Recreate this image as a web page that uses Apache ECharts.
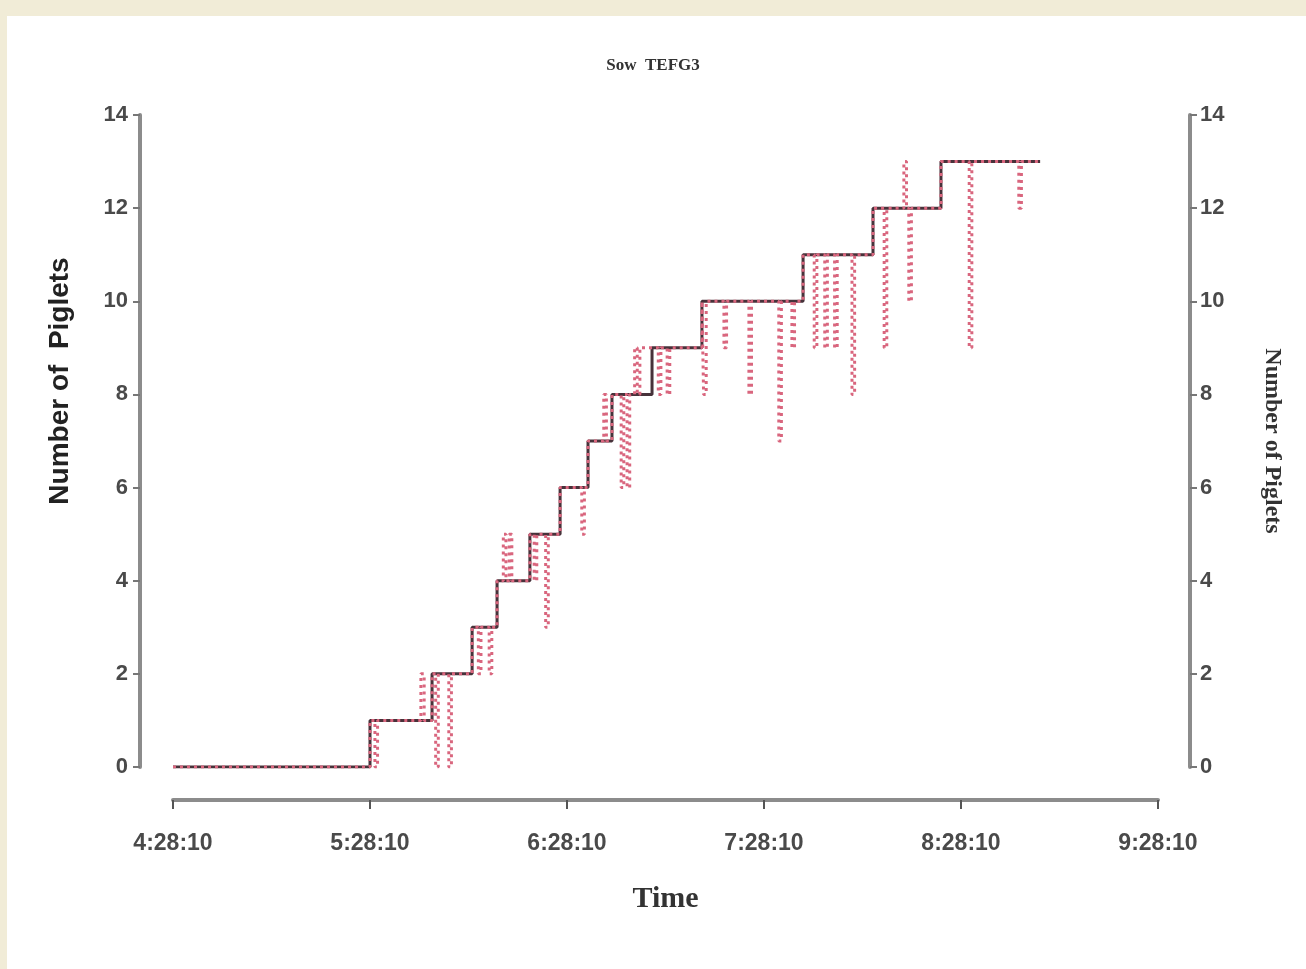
<!DOCTYPE html>
<html>
<head>
<meta charset="utf-8">
<script src="https://cdn.jsdelivr.net/npm/echarts@6/dist/echarts.min.js"></script>
<style>
  html, body { margin: 0; padding: 0; background: #fff; }
  #container { width: 1306px; height: 969px; }
</style>
</head>
<body>
<div id="container"></div>
<script>
// minutes after 4:28:10
var tickLabels = ['4:28:10', '5:28:10', '6:28:10', '7:28:10', '8:28:10', '9:28:10'];

// observed number of piglets (black step line)
var stepTimes = [0, 60, 78.9, 91.1, 98.7, 108.7, 117.9, 126.4, 133.7, 145.9, 161.1, 191.9, 213.2, 233.9, 264.1];
var stepCounts = [0, 1, 2, 3, 4, 5, 6, 7, 8, 9, 10, 11, 12, 13, 13];

// estimated count (red dotted line)
var redTimes = [0, 60, 61.5, 62.3, 75.5, 76.5, 78.9, 80, 80.8, 84, 84.8, 91.1, 93, 93.8, 96.3, 97.1,
  98.7, 100.6, 101.4, 102.4, 103.2, 108.7, 110, 110.8, 113.5, 114.3, 117.9, 124.5, 125.3, 126.4,
  131.2, 132, 133.7, 136.5, 137.3, 138.3, 139.1, 140.6, 141.4, 142.2, 147.8, 148.6, 150.5, 151.3,
  161.1, 161.6, 162.4, 167.8, 168.6, 175.4, 176.2, 184.5, 185.3, 188.5, 189.3, 191.9, 195.3, 196.1,
  198.5, 199.3, 201.5, 202.3, 206.8, 207.6, 213.2, 216.6, 217.4, 222.6, 223.4, 224.1, 224.9, 233.9,
  242.5, 243.3, 257.6, 258.4, 264.1];
var redCounts = [0, 1, 0, 1, 2, 1, 2, 0, 2, 0, 2, 3, 2, 3, 2, 3,
  4, 5, 4, 5, 4, 5, 4, 5, 3, 5, 6, 5, 6, 7,
  8, 7, 8, 6, 8, 6, 8, 9, 8, 9, 8, 9, 8, 9,
  10, 8, 10, 9, 10, 8, 10, 7, 10, 9, 10, 11, 9, 11,
  9, 11, 9, 11, 8, 11, 12, 9, 12, 13, 12, 10, 12, 13,
  9, 13, 12, 13, 13];

var blackData = stepTimes.map(function (t, i) { return [t, stepCounts[i]]; });
var redData = redTimes.map(function (t, i) { return [t, redCounts[i]]; });

var dom = document.getElementById('container');
var myChart = echarts.init(dom, null, { renderer: 'canvas' });

var axisGray = '#8c8c8c';
var labelFont = { color: '#4a4a4a', fontSize: 22, fontWeight: 'bold', fontFamily: 'Liberation Sans, Arial' };

var option = {
  backgroundColor: '#fff',
  animation: false,
  title: {
    text: 'Sow  TEFG3',
    left: 'center',
    top: 52,
    textStyle: { fontFamily: 'Liberation Serif, Times New Roman', fontWeight: 'bold', fontSize: 17, color: '#333' }
  },
  graphic: [
    { type: 'rect', left: 0, top: 0, shape: { width: 1306, height: 16 }, style: { fill: '#f1ecd7' }, z: -1 },
    { type: 'rect', left: 0, top: 0, shape: { width: 7, height: 969 }, style: { fill: '#f1ecd7' }, z: -1 }
  ],
  grid: { left: 173, right: 148, top: 115, bottom: 202 },
  xAxis: {
    type: 'value',
    min: 0,
    max: 300,
    interval: 60,
    offset: 33,
    splitLine: { show: false },
    axisLine: { show: true, onZero: false, lineStyle: { color: axisGray, width: 4 } },
    axisTick: { show: true, length: 9, lineStyle: { color: '#555', width: 2 } },
    axisLabel: Object.assign({ margin: 32, formatter: function (v) { return tickLabels[Math.round(v / 60)]; } }, labelFont, { fontSize: 23 }),
    name: 'Time',
    nameLocation: 'middle',
    nameGap: 84,
    nameTextStyle: { fontFamily: 'Liberation Serif, Times New Roman', fontWeight: 'bold', fontSize: 30, color: '#333' }
  },
  yAxis: [
    {
      type: 'value',
      position: 'left',
      min: 0,
      max: 14,
      interval: 2,
      offset: 33,
      splitLine: { show: false },
      axisLine: { show: true, onZero: false, lineStyle: { color: axisGray, width: 4 } },
      axisTick: { show: true, length: 7, lineStyle: { color: '#777', width: 2 } },
      axisLabel: Object.assign({ margin: 12 }, labelFont),
      name: 'Number of  Piglets',
      nameLocation: 'middle',
      nameGap: 66,
      nameTextStyle: { fontFamily: 'Liberation Sans, Arial', fontWeight: 'bold', fontSize: 28, color: '#222', padding: [0, 0, 0, 120] }
    },
    {
      type: 'value',
      position: 'right',
      min: 0,
      max: 14,
      interval: 2,
      offset: 32,
      splitLine: { show: false },
      axisLine: { show: true, onZero: false, lineStyle: { color: axisGray, width: 4 } },
      axisTick: { show: true, length: 7, lineStyle: { color: '#777', width: 2 } },
      axisLabel: Object.assign({ margin: 10 }, labelFont),
      name: 'Number of Piglets',
      nameLocation: 'middle',
      nameRotate: -90,
      nameGap: 70,
      nameTextStyle: { fontFamily: 'Liberation Serif, Times New Roman', fontWeight: 'bold', fontSize: 24, color: '#333' }
    }
  ],
  series: [
    {
      name: 'Observed',
      type: 'line',
      step: 'end',
      data: blackData,
      symbol: 'none',
      lineStyle: { color: '#47323a', width: 3 },
      z: 2
    },
    {
      name: 'Estimated',
      type: 'line',
      step: 'end',
      data: redData,
      symbol: 'none',
      lineStyle: { color: '#d9667e', width: 3, type: [3, 4] },
      z: 3
    }
  ]
};

myChart.setOption(option);
window.addEventListener('resize', myChart.resize);
</script>
</body>
</html>
